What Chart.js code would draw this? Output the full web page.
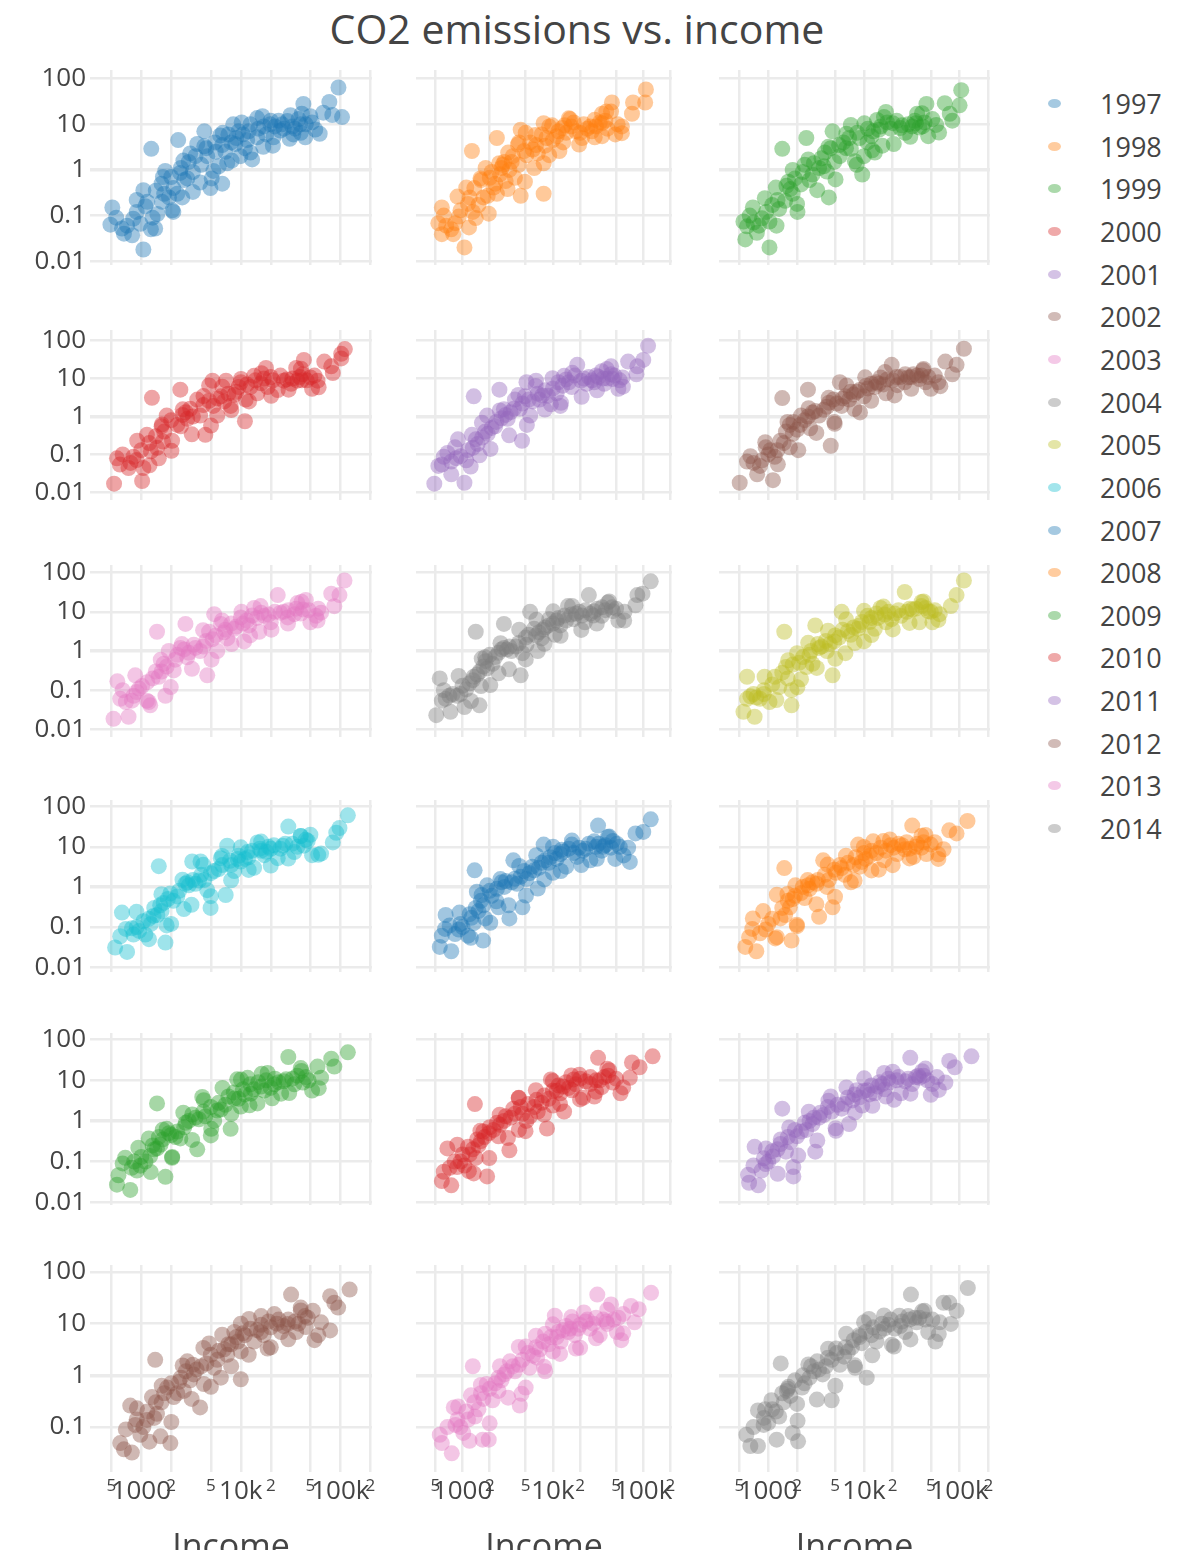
<!DOCTYPE html>
<html>
<head>
<meta charset="utf-8">
<title>CO2 emissions vs. income</title>
<script src="https://cdn.jsdelivr.net/npm/chart.js"></script>
<style>
  html, body { margin: 0; padding: 0; background: #fff; }
  body { width: 1200px; height: 1550px; overflow: hidden; position: relative;
         font-family: "Open Sans", "DejaVu Sans", sans-serif; color: #444; }
  #title { position: absolute; top: 4px; left: 577px; transform: translateX(-50%);
           font-size: 41px; line-height: 48px; white-space: nowrap; }
  canvas.panel { position: absolute; }
  .legend-item { position: absolute; left: 1040px; width: 150px; height: 40px; font-size: 27px; line-height: 40px; }
  .legend-item .dot { position: absolute; left: 8px; top: 15px; width: 13px; height: 9px; border-radius: 50%; }
  .legend-item .lbl { position: absolute; left: 60px; top: 0; }
</style>
</head>
<body>
<div id="title">CO2 emissions vs. income</div>
<div id="legend"></div>
<script>
const FONT = '"Open Sans", "DejaVu Sans", sans-serif';

const years = [1997, 1998, 1999, 2000, 2001, 2002, 2003, 2004, 2005,
               2006, 2007, 2008, 2009, 2010, 2011, 2012, 2013, 2014];
const colors = ['#1f77b4', '#ff7f0e', '#2ca02c', '#d62728', '#9467bd',
                '#8c564b', '#e377c2', '#7f7f7f', '#bcbd22', '#17becf'];

const xTicks = [500, 1000, 2000, 5000, 10000, 20000, 50000, 100000, 200000];
const xTickLabels = ['5', '1000', '2', '5', '10k', '2', '5', '100k', '2'];
const yTicks = [0.01, 0.1, 1, 10, 100];
const yTickLabels = ['0.01', '0.1', '1', '10', '100'];

// [income, co2 per person]
const pts1997 = [[512,0.15],[490,0.063],[640,0.052],[670,0.04],[810,0.037],[830,0.085],[980,0.066],[1050,0.36],[1050,0.018],[1100,0.16],[1260,2.9],[1380,0.052],[1450,0.108],[1620,0.2],[1740,0.95],[2100,0.12],[2100,0.4],[2350,4.5],[2460,0.86],[2580,0.25],[2900,0.65],[3100,2.3],[3650,3.7],[3900,0.53],[4300,7],[4600,2],[4950,0.4],[5300,0.95],[6200,5.7],[6500,0.5],[7300,1.4],[8400,10],[8800,3.7],[9900,2],[11600,4.5],[13000,1.7],[14600,13.7],[14600,5.2],[16800,3.2],[19800,10],[21300,5.2],[25000,7.3],[29400,11.8],[31500,15.8],[33700,6],[39600,10],[42500,28],[44400,5.2],[49900,15],[56000,7.7],[67400,18],[77500,31],[83000,16],[95700,64],[104000,14.4],
  [1900,0.25],[2300,0.3],[3300,0.9],[6000,1.2],[7000,2.5],[9000,5],[11000,3],[12000,7],[15000,8],[18000,6],[22000,9],[27000,8],[35000,8],[40000,6.5],[45000,10],[24000,12],[1300,0.09],[1700,0.3],[2700,0.6],[4000,1.3],[5600,2.5],[8000,4],[10500,6],
  [560,0.09],[720,0.06],[900,0.12],[1150,0.2],[1400,0.35],[1600,0.5],[2000,0.7],[2500,1.1],[3000,1.5],[3500,2],[4500,3],[5500,4],[6500,3.5],[7500,6],[9500,7],[12500,10],[17000,9],[20000,12],[26000,10],[33000,9],[38000,13],[52000,11],
  [900,0.22],[1250,0.05],[1650,0.7],[2050,0.13],[2650,1.6],[3300,0.33],[4300,3.3],[5100,0.65],[6600,6.5],[8100,1.6],[10200,11],[12500,2.4],[16500,15],[21000,3.4],[31000,4.8],[41000,17],[62000,6.2]];
const pts1998 = [[107000,58],[105000,30],[77000,30],[75000,17],[45000,30],[44000,19],[35000,17],[35000,10.6],[58000,9],[49000,6],[35000,5.5],[26000,9],[21000,5],[16000,9],[15000,13.5],[12700,8.3],[11000,5.5],[9100,9],[7900,10.6],[7500,6],[8200,3.4],[9100,2.1],[6800,2.3],[6200,1.1],[5600,4],[5000,6.5],[4400,7.6],[4200,4],[5100,2.1],[4200,1.3],[3800,0.67],[4400,0.27],[7900,0.3],[3200,2.4],[3500,1.5],[2700,1.1],[2400,5],[2600,0.8],[3000,0.57],[2200,0.41],[2000,0.67],[1800,1.1],[1270,2.6],[1900,0.27],[1500,0.17],[1150,0.18],[1100,0.41],[1400,0.088],[910,0.095],[830,0.068],[590,0.15],[540,0.068],[590,0.039],[790,0.039],[1050,0.02],[2400,0.3],[2900,1.5],[13000,4],[20000,6.5],[29000,12.5],
  [1300,0.12],[1700,0.25],[2300,0.5],[3300,1],[6000,2.8],[10000,4.5],[14000,6.5],[18000,7],[24000,8],[30000,9],[40000,8],[660,0.06],
  [620,0.1],[750,0.05],[950,0.13],[1200,0.25],[1350,0.4],[1600,0.6],[2100,0.9],[2800,1.3],[3600,2],[4800,2.6],[6500,3.5],[8500,5],[11500,7],[13500,9.5],[17000,11],[22000,10],[27000,7],[33000,11],[38000,12],[52000,10],
  [880,0.26],[1180,0.055],[1580,0.65],[1950,0.11],[2550,1.4],[3150,0.38],[4100,3.6],[4900,0.55],[6400,5.8],[7900,1.4],[9800,9.5],[11800,2.6],[15500,13],[19500,3.6],[29000,5.2],[39000,19],[58000,6.4]];
const pts1999 = [[104000,56],[100000,26],[70000,29],[79000,17],[84000,12],[57000,9.7],[45000,28],[47000,5.5],[36000,17],[35000,10.6],[24000,8.3],[20000,10.6],[17000,18.7],[13700,12.4],[14300,7.6],[10900,4],[13000,2.4],[10000,2],[9600,0.79],[7300,9.7],[7300,2.9],[6100,4],[5600,2],[4700,7],[4900,1.5],[4300,0.25],[3900,2.4],[3400,1.1],[2900,0.79],[2500,5],[2400,1.3],[2200,0.48],[1800,1],[1700,0.38],[1500,0.21],[1400,2.9],[1200,0.41],[1100,0.17],[1030,0.074],[860,0.087],[690,0.15],[600,0.058],[575,0.03],[550,0.074],[760,0.042],[1030,0.02],[2000,0.18],[4100,0.92],[8400,1.3],[15600,3.4],[27000,6.5],[32000,9],[12000,5.5],
  [1300,0.14],[1800,0.3],[2700,0.6],[3800,1.2],[6500,3],[9000,5],[12500,7],[19000,8],[25000,9.5],[38000,8.5],[43000,11],[700,0.07],
  [640,0.1],[800,0.06],[950,0.12],[1250,0.22],[1550,0.45],[1900,0.65],[2300,0.9],[3000,1.4],[3600,1.8],[4500,3],[5500,3.5],[7000,5],[8500,6.5],[11000,8],[15000,9],[17500,11],[22000,12],[29000,10],[34000,12],[41000,9],[52000,13],
  [920,0.24],[1220,0.06],[1620,0.55],[2020,0.12],[2620,1.7],[3250,0.36],[4250,3.2],[5050,0.62],[6550,6.2],[8050,1.55],[10100,10.5],[12200,2.7],[16200,14.5],[20500,3.7],[30500,5.3],[40500,17.5],[61000,6.6]];
const pts2000 = [[533,0.017],[570,0.079],[610,0.054],[745,0.044],[835,0.087],[900,0.071],[1020,0.02],[1050,0.044],[1140,0.33],[1280,3.1],[1440,0.15],[1500,0.079],[1700,0.4],[1800,1.06],[2040,0.23],[2300,0.6],[2470,5.1],[2800,1.3],[2900,0.87],[3650,2.8],[3900,1.06],[4400,0.33],[4800,6.6],[5200,8.8],[5800,1.06],[6300,3.4],[7100,8.8],[7900,1.9],[8600,3.7],[10000,8],[11000,0.75],[11200,2.8],[13600,11.8],[14700,4.1],[17900,19],[18600,6],[23500,5],[27000,8.8],[32000,7.3],[36000,19],[37000,8.8],[42000,13],[43000,31],[52000,5.4],[50000,10.7],[59000,8.8],[69000,28],[81000,21],[84000,14],[102000,34],[111000,60],[102000,45],
  [1250,0.12],[1650,0.22],[2500,0.55],[3300,1],[5300,1.9],[6800,2.5],[9000,4.5],[12500,6],[16000,7.5],[21000,9],[29000,9.5],[39000,11],[46000,9],
  [650,0.1],[780,0.06],[1000,0.13],[1200,0.2],[1400,0.3],[1600,0.55],[2000,0.8],[2600,1.1],[3100,1.6],[4200,2],[4800,2.6],[5800,3],[7500,4],[9500,6],[11500,7],[14000,9],[17000,10],[20000,11],[25000,12],[33000,10],[41000,9],[55000,12],
  [910,0.23],[1210,0.052],[1610,0.62],[2010,0.125],[2610,1.55],[3220,0.34],[4220,3.45],[5020,0.58],[6520,6.1],[8020,1.48],[10050,9.8],[12100,2.5],[16100,13.8],[20200,3.5],[30200,5.1],[40200,18.2],[60500,5.9]];
const pts2001 = [[487,0.017],[590,0.054],[620,0.087],[750,0.065],[825,0.154],[750,0.03],[1050,0.018],[1100,0.07],[1270,0.33],[1330,3.4],[1470,0.19],[1540,0.095],[1780,0.4],[1870,1.06],[2370,0.72],[2560,5.1],[2870,1.56],[3160,0.87],[3800,2.8],[4550,0.23],[4900,3.4],[5100,8],[5600,1.06],[6500,8.8],[7100,2.8],[8200,4.9],[9500,2.1],[11000,4.1],[12100,1.9],[13300,11.8],[16200,6],[18600,23],[20500,8.8],[23600,7.3],[28700,8],[34700,15.7],[37000,7.3],[44000,21],[46000,9.7],[53000,5.4],[59000,10.7],[68000,28],[84000,13],[86000,21],[100000,31],[113000,73],
  [950,0.09],[1300,0.15],[1650,0.28],[2100,0.5],[2700,0.9],[3400,1.3],[4300,1.6],[6000,2.5],[7600,3.6],[10000,5.5],[12800,6.5],[15000,8],[22000,10],[27000,9],[32000,11],[40000,10],[48000,12],[55000,9],
  [540,0.05],[680,0.11],[850,0.08],[1150,0.13],[1400,0.25],[1900,0.35],[2300,0.55],[3000,1.1],[3700,1.6],[4600,2.2],[5400,2.8],[6800,4],[8800,3.5],[11500,8],[14000,9.5],[17500,12],[25000,11],[30000,12],[36000,10],[44000,13],
  [890,0.25],[1230,0.048],[1640,0.68],[2040,0.14],[2580,1.45],[3280,0.32],[4150,3.7],[5150,0.6],[6450,6.4],[8150,1.52],[9900,10.2],[12300,2.3],[16400,14.2],[20800,3.3],[30800,4.9],[39500,17.8],[59500,6.1]];
const pts2002 = [[503,0.018],[600,0.065],[765,0.03],[860,0.07],[1120,0.021],[940,0.154],[1170,0.087],[1400,3.06],[1340,0.23],[1530,0.4],[1680,0.154],[1830,0.72],[2200,1.06],[2600,5.1],[2740,0.49],[3400,1.06],[4300,2.3],[4500,0.17],[4900,0.72],[5600,8],[5850,1.9],[7000,2.8],[8400,4.5],[9100,1.28],[10000,3.4],[12000,7.3],[14900,10.7],[17000,4.1],[19500,23],[22300,6.7],[26700,8],[33000,13],[38000,9.7],[44000,8],[42000,18],[50000,5.4],[60000,8],[71000,28],[84000,13],[93000,23],[111000,61],[1680,0.6],[2900,1.28],[6400,3.4],[14300,7.3],[29000,10.7],
  [700,0.06],[1000,0.1],[1250,0.13],[2000,0.45],[2400,0.8],[3800,1.5],[5200,2.2],[7800,3.8],[11000,5.5],[13000,6],[16000,7],[20000,9],[24000,11],[36000,12],[47000,11],
  [650,0.09],[820,0.05],[1050,0.13],[1450,0.2],[1800,0.35],[2150,0.6],[2600,1],[3100,1.4],[4100,1.8],[4800,2.8],[6000,3],[7300,4.5],[9000,5],[10500,6.5],[13500,8],[17500,9.5],[22000,11],[27000,13],[31000,11],[40000,12],[55000,12],
  [930,0.21],[1260,0.055],[1590,0.72],[2060,0.13],[2640,1.65],[3180,0.37],[4280,3.1],[4950,0.64],[6580,6.6],[7950,1.58],[10300,10.8],[11900,2.6],[16600,14.8],[20900,3.6],[31200,5.4],[41500,16.5],[63000,6.3]];
const pts2003 = [[526,0.0186],[575,0.168],[615,0.06],[745,0.021],[805,0.054],[837,0.072],[1020,0.127],[1140,0.054],[1230,0.041],[1440,3.1],[1500,0.22],[1680,0.47],[1750,0.072],[1890,1],[2120,0.32],[2470,1.2],[2780,4.9],[2900,0.69],[3370,1.45],[3900,1],[4600,0.24],[4800,3.1],[5400,8.7],[5800,1],[6300,4.9],[7300,2.1],[8600,3.7],[10000,7.2],[10800,1.76],[12100,4.5],[13600,12.6],[15300,3.1],[17200,7.9],[20000,5.4],[23500,26.8],[25000,9.5],[29600,7.2],[34500,8.7],[37000,16.7],[42000,11.5],[45000,20],[50000,5.4],[57000,7.9],[64000,9.5],[81000,29],[87000,13.9],[98000,26.8],[110000,63],
  [900,0.09],[1300,0.2],[1600,0.3],[2200,0.6],[3000,0.9],[4200,1.3],[5200,2],[6800,3],[9000,4.2],[11500,6],[14500,7],[19000,8.5],[27000,10],[40000,9],
  [650,0.1],[700,0.05],[950,0.11],[1150,0.16],[1400,0.3],[1800,0.4],[2300,0.8],[2700,1.1],[3500,1.2],[4500,1.8],[5600,2.5],[7000,3.5],[8000,5],[10500,5],[13000,8],[16000,9.5],[22000,10],[30000,11],[36000,12],[48000,11],[60000,12],
  [870,0.24],[1190,0.05],[1570,0.6],[1980,0.12],[2560,1.5],[3230,0.35],[4180,3.4],[5080,0.6],[6480,6],[8080,1.5],[10150,10],[12400,2.5],[15800,14],[20300,3.5],[29800,5],[40800,18],[59000,6]];
const pts2004 = [[512,0.023],[560,0.2],[590,0.054],[715,0.072],[735,0.028],[870,0.072],[1050,0.037],[1100,0.105],[1400,3.1],[1330,0.22],[1540,0.041],[1600,0.127],[1780,0.69],[1870,0.36],[2150,0.47],[2500,0.27],[2870,4.9],[2870,1.2],[3470,1],[4400,0.24],[4600,0.88],[5100,1.45],[5600,10],[6200,3.7],[6800,1],[7500,2.1],[9100,6.5],[10500,2.6],[12100,4.5],[14700,14],[17000,6.5],[19600,10],[22600,5.4],[25000,26.8],[28700,10.4],[34700,7.9],[42000,18.4],[46000,10.4],[53000,6],[62000,10],[82000,14.7],[86000,26.8],[98000,29],[121000,60],
  [650,0.06],[950,0.08],[1200,0.15],[1450,0.25],[1700,0.4],[2000,0.8],[2500,0.9],[3100,1.1],[3900,1.3],[5000,2.2],[7000,3],[8200,4],[10000,5],[11500,7],[14000,6],[16000,8.5],[21000,8],[26000,9],[31000,12],[38000,11],[45000,13],
  [620,0.1],[780,0.08],[1000,0.13],[1300,0.18],[1550,0.3],[1800,0.55],[2300,0.7],[2700,1.1],[3300,1.3],[4200,1.6],[5400,2.6],[6500,2.5],[7800,3.5],[9000,4.5],[11000,6],[13500,8],[18000,9],[23000,11],[28000,8],[35000,13],[50000,12],
  [905,0.23],[1240,0.053],[1630,0.64],[2030,0.135],[2630,1.58],[3270,0.34],[4240,3.5],[5010,0.61],[6560,6.3],[8060,1.53],[10080,10.3],[12150,2.45],[16300,14.1],[20600,3.45],[30600,5],[40600,17.2],[61500,6]];
const pts2005 = [[550,0.028],[600,0.22],[720,0.021],[750,0.065],[900,0.08],[1030,0.05],[1470,3.1],[1170,0.22],[1530,0.39],[1750,0.041],[1750,0.1],[2000,0.88],[2200,0.19],[2500,0.39],[2900,0.47],[3100,4.5],[3400,1.2],[4100,1],[4700,0.24],[4900,1.76],[5850,10],[6400,0.88],[7300,2.6],[8700,3.7],[10000,1.76],[10900,7.9],[13000,3.7],[14900,12.6],[17000,5.4],[19500,6.5],[24400,7.9],[26700,32],[32000,11.5],[38000,5.4],[42000,18.4],[47000,10.4],[52000,5.4],[62000,8.7],[81000,14],[93000,26.8],[111000,63],
  [650,0.07],[820,0.06],[1300,0.12],[1600,0.2],[2100,0.5],[2700,0.8],[3600,1.3],[4400,1.5],[5500,2.2],[6800,3.2],[9000,4.5],[11500,5.5],[14000,7],[16500,8.5],[21000,9],[28000,10],[35000,12],[44000,12.5],[55000,11],
  [600,0.06],[700,0.08],[900,0.1],[1100,0.14],[1400,0.28],[1800,0.45],[2300,0.7],[2800,1],[3300,1.5],[4000,1.8],[5000,2.5],[6000,3.5],[7800,4],[9500,5.5],[12000,7],[13500,9],[18000,10],[23000,11],[30000,12],[40000,14],[50000,10],
  [915,0.22],[1215,0.056],[1615,0.58],[2015,0.118],[2615,1.62],[3215,0.37],[4215,3.3],[5015,0.63],[6515,6.4],[8015,1.6],[10015,10.6],[12015,2.55],[16015,13.6],[20015,3.55],[30015,5.2],[40015,17.8],[60015,6.2]];
const pts2006 = [[546,0.031],[615,0.059],[640,0.23],[720,0.024],[805,0.093],[835,0.065],[1100,0.065],[1190,0.16],[1330,0.19],[1500,3.3],[1750,0.041],[1680,0.4],[1800,0.11],[1960,0.69],[2300,0.58],[2680,0.28],[2780,1.2],[3250,4.3],[3940,4.3],[3800,1.44],[4600,0.83],[4970,0.3],[5400,2.5],[6300,5.2],[7300,10.7],[7050,0.63],[8600,2.5],[10000,4.3],[11700,7.4],[13600,3],[14700,12.9],[17200,6.2],[20000,8.9],[23500,5.2],[26400,10.7],[30000,32],[34500,7.4],[40000,18.6],[43000,10.7],[50000,20],[52000,6.2],[64000,6.8],[84000,12.9],[91000,22.4],[98000,29.4],[119000,61],
  [950,0.08],[1250,0.12],[1450,0.2],[1600,0.25],[2100,0.45],[3000,1.1],[3500,1.2],[4300,1.5],[6000,2.8],[8000,3.5],[9300,5],[12000,5.5],[16000,8],[19000,10],[25000,9],[33000,12],[47000,14],
  [700,0.09],[900,0.1],[1050,0.14],[1350,0.3],[1550,0.35],[1850,0.5],[2400,0.8],[2900,1.3],[3300,1.5],[4000,2],[5000,2.2],[6500,3.5],[7800,4.5],[9500,6],[11000,5],[13000,8],[15500,9],[18000,7.5],[21500,11],[28000,12],[37000,10],[45000,15],
  [895,0.24],[1195,0.05],[1595,0.66],[1995,0.12],[2595,1.52],[3195,0.36],[4195,3.55],[4995,0.59],[6495,5.9],[7995,1.47],[9995,9.7],[11995,2.65],[15995,13.5],[19995,3.4],[29995,5.1],[39995,18.5],[59995,6.3]];
const pts2007 = [[560,0.032],[590,0.061],[650,0.2],[750,0.025],[825,0.067],[910,0.087],[1150,0.061],[1200,0.21],[1330,0.125],[1360,2.6],[1440,0.76],[1690,0.046],[1780,0.164],[1870,1.1],[2370,0.44],[2500,0.31],[2700,1.3],[3300,0.164],[3650,4.6],[4000,1.2],[4600,0.31],[5100,1.57],[5900,3.2],[6800,0.91],[7900,11.4],[8200,4.6],[10000,2.25],[12100,6.6],[14000,3.2],[16200,11.4],[18600,5.6],[21500,8],[26000,4.6],[28700,13.7],[31600,33.8],[34700,8],[42000,18],[44000,9.5],[49000,5],[68000,9.5],[71000,4.2],[82000,21.6],[100000,23.5],[121000,48.5],
  [1000,0.1],[1400,0.3],[1600,0.45],[2100,0.6],[2900,1],[3500,1.3],[4400,1.8],[5500,2.2],[7000,3],[9000,4],[11000,5],[13000,7.5],[17000,7],[23000,9],[30000,10],[38000,11],[46000,14],[55000,10],
  [640,0.09],[720,0.11],[950,0.12],[1250,0.17],[1500,0.25],[1700,0.35],[2000,0.8],[2400,0.9],[3000,1.4],[3800,1.6],[4800,2.5],[6200,2.6],[7500,4],[9300,5.5],[10500,7],[12500,8.5],[15000,9],[19500,9.5],[25000,12],[32000,12],[36000,10],[51000,12],
  [925,0.23],[1235,0.054],[1625,0.63],[2025,0.128],[2625,1.57],[3235,0.35],[4235,3.35],[5035,0.61],[6535,6.2],[8035,1.54],[10035,10.1],[12235,2.5],[16235,14.3],[20635,3.52],[30635,5.05],[40635,17.6],[60635,6.1]];
const pts2008 = [[575,0.032],[630,0.056],[690,0.164],[750,0.025],[940,0.087],[1230,0.056],[1470,2.95],[1230,0.64],[1340,0.164],[1680,0.31],[1750,0.046],[1920,1.1],[2000,0.105],[2400,0.53],[2900,1.3],[3400,0.18],[3750,4.6],[4100,1],[4700,0.31],[5100,2.25],[5850,2.95],[7300,1.3],[8700,11.4],[9100,3.2],[10400,5],[12500,13.7],[14300,2.7],[16300,4.6],[18700,15.2],[22300,6.6],[26700,8.7],[32000,33.8],[33000,5.6],[40000,9.5],[44000,19.7],[45000,6.6],[50000,11.4],[60000,5],[68000,8.7],[78000,25.8],[93000,21.6],[121000,44],
  [1000,0.12],[1500,0.2],[1800,0.5],[2200,0.7],[2700,0.9],[3200,1.2],[4300,1.5],[6300,2],[7800,3.5],[9500,4.2],[11500,6],[13500,7],[17000,8],[20500,9.5],[25000,11],[30000,9],[36000,12],[55000,13],
  [680,0.09],[820,0.07],[1100,0.16],[1400,0.3],[1600,0.45],[1900,0.6],[2300,1],[2600,1.1],[3300,1.5],[3900,2],[4900,2.7],[5600,3.5],[6800,4],[8200,5.5],[10000,7],[12000,8],[15000,9.5],[19000,11],[23000,12],[28000,13],[35000,10],[42000,13],
  [885,0.25],[1185,0.052],[1585,0.67],[1985,0.115],[2585,1.48],[3185,0.37],[4185,3.6],[4985,0.57],[6485,6],[7985,1.45],[9985,9.9],[11985,2.58],[15985,13.9],[19985,3.48],[29985,5.15],[39985,18.8],[59985,6.5]];
const pts2009 = [[570,0.027],[590,0.046],[690,0.124],[775,0.02],[905,0.06],[980,0.079],[1190,0.37],[1230,0.136],[1440,2.7],[1440,0.21],[1560,0.26],[1750,0.042],[1800,0.64],[2040,0.124],[2200,0.4],[2470,0.37],[3250,1.44],[3650,0.2],[3800,1.1],[4100,3.9],[5000,0.44],[5400,1],[6300,1.9],[7900,0.64],[8600,3.55],[9200,10.6],[10000,2.26],[11700,11.5],[12600,4.7],[14700,2.7],[17200,5.6],[18600,15.2],[21700,8],[25400,4.7],[28500,10.6],[30000,37.5],[34500,8],[40000,20],[42000,8.8],[52000,5.6],[59000,21.8],[64000,11.6],[81000,34],[87000,21.8],[119000,49],
  [800,0.07],[1100,0.1],[1350,0.2],[1650,0.35],[2000,0.45],[2700,0.7],[3000,1],[4400,1.3],[5800,1.8],[7000,2.5],[9500,3.5],[11000,4.5],[13500,6],[16000,7],[20000,6.5],[24000,9],[33000,11],[45000,12],
  [650,0.09],[850,0.1],[1000,0.13],[1300,0.25],[1500,0.4],[1900,0.5],[2300,0.55],[2800,0.9],[3500,1.2],[4200,1.7],[5000,2.2],[6000,2.8],[7500,4],[8500,5],[10500,6],[12500,8],[15000,9],[18000,10],[22000,11],[27000,9.5],[37000,13],[48000,10],
  [935,0.22],[1245,0.055],[1645,0.61],[2045,0.13],[2645,1.6],[3245,0.34],[4245,3.25],[5045,0.64],[6545,6.5],[8045,1.5],[10045,10.4],[12245,2.42],[16245,14.6],[20645,3.6],[30645,4.85],[40645,17],[60645,6.4]];
const pts2010 = [[590,0.033],[620,0.056],[750,0.026],[680,0.21],[870,0.073],[1050,0.08],[1150,0.23],[1330,0.051],[1370,2.6],[1400,0.123],[1600,0.32],[1870,0.043],[1960,0.5],[2500,0.42],[2870,1],[3300,0.19],[3650,2],[4200,3.7],[4200,0.6],[5100,1],[5600,1.3],[6800,1.7],[8600,0.65],[9500,10.5],[10000,2.4],[12100,4.8],[13300,1.7],[16200,5.7],[19600,13.7],[21500,3.7],[26000,8.1],[28700,4],[31600,35.7],[34700,6.8],[42000,17.8],[46000,8.8],[56000,4.8],[71000,11.5],[75000,27.5],[91000,21],[127000,39],
  [950,0.1],[1200,0.15],[1500,0.25],[1750,0.4],[2200,0.6],[2600,0.8],[3400,1.2],[4600,1.5],[6200,2.2],[7500,2.8],[9000,3.5],[11000,5.5],[13000,7],[15000,6.5],[18000,8],[23000,9.5],[30000,10],[37000,12],[50000,11],
  [720,0.07],[820,0.1],[1000,0.15],[1300,0.2],[1450,0.35],[1700,0.55],[2000,0.7],[2400,0.9],[3000,1.3],[3800,1.5],[4400,2.2],[5300,2.6],[6600,3.3],[8000,4.2],[10000,5.5],[11500,7.5],[14000,9],[17000,10.5],[20000,11],[26000,12],[33000,10],[41000,13],
  [875,0.26],[1175,0.058],[1575,0.57],[1975,0.122],[2575,1.42],[3175,0.38],[4175,3.65],[4975,0.56],[6475,5.7],[7975,1.43],[9975,9.6],[11975,2.62],[15975,13.2],[19975,3.38],[29975,5.25],[39975,19.2],[59975,6.7]];
const pts2011 = [[615,0.047],[630,0.03],[720,0.23],[785,0.026],[940,0.087],[1120,0.134],[1400,2],[1340,0.27],[1530,0.175],[1830,0.043],[1830,0.073],[2000,0.42],[2500,0.6],[2900,0.84],[3100,0.175],[3400,1.2],[4500,4],[5100,0.57],[5850,2],[7000,0.84],[8400,5.7],[9600,2.4],[10900,5.7],[13000,4.8],[15600,8.1],[17000,4],[20000,16.3],[24400,4.8],[30500,35.7],[32000,8.1],[38000,11.5],[44000,19.5],[50000,4.4],[52000,8.1],[71000,8.8],[78000,30],[89000,21],[133000,39],
  [850,0.06],[1000,0.1],[1250,0.2],[1700,0.3],[2200,0.55],[2700,1],[3800,1.4],[4600,1.7],[6300,2.6],[7600,3.2],[9000,3.8],[11500,4.5],[14000,7],[16500,6],[19000,9],[22000,10],[27000,9.5],[35000,12],[42000,13],[58000,12],
  [700,0.08],[900,0.12],[1100,0.18],[1350,0.35],[1600,0.4],[1900,0.6],[2400,0.9],[3000,1.2],[3500,1.6],[4200,2.2],[5300,2.5],[6800,3.8],[8000,4.5],[10000,5.5],[12000,7.5],[14500,9],[18000,11],[23000,12],[29000,11],[37000,13],[46000,10],
  [945,0.21],[1255,0.05],[1655,0.69],[2055,0.14],[2655,1.68],[3255,0.33],[4255,3.15],[5055,0.66],[6555,6.7],[8055,1.62],[10055,11.2],[12255,2.35],[16255,15.2],[20655,3.3],[30655,4.7],[40655,16.8],[60655,5.8]];
const pts2012 = [[615,0.049],[670,0.037],[805,0.032],[775,0.26],[870,0.11],[980,0.071],[1140,0.137],[1280,0.38],[1380,2],[1440,0.18],[1560,0.066],[1820,0.58],[1960,0.049],[2120,0.38],[2680,0.5],[2900,1.87],[3370,1.04],[3900,0.24],[4250,0.68],[4800,4.15],[5400,1.4],[6300,0.9],[7300,2.5],[8600,6.9],[10000,0.84],[10000,2.9],[12100,12.3],[13600,4.5],[15900,6.9],[18600,3.3],[21700,15.3],[25400,6.9],[29600,9.9],[32000,36.6],[36000,6.9],[40000,20.5],[45000,8.6],[55000,4.8],[53000,17.7],[64000,10.6],[79000,7.4],[79000,34],[87000,25.4],[95000,20.5],[124000,45.6],
  [1050,0.1],[1350,0.15],[1600,0.3],[2300,0.45],[2500,0.9],[3100,0.8],[3600,1.3],[4500,1.7],[5800,2],[6800,3.2],[8000,4],[9300,4.5],[11000,6],[14500,7.5],[17000,6],[20000,8.5],[23000,10],[27000,9],[35000,11],[47000,13],
  [700,0.09],[900,0.14],[1150,0.2],[1400,0.3],[1700,0.45],[2000,0.7],[2400,0.75],[2800,1.2],[3300,1.6],[4000,1.5],[5000,2.5],[6000,3],[7500,4],[9000,5.5],[10500,6.5],[12500,8],[16000,9.5],[19000,11],[24000,12],[30000,12],[38000,10],[44000,14],
  [905,0.23],[1205,0.052],[1605,0.63],[2005,0.125],[2605,1.55],[3205,0.35],[4205,3.4],[5005,0.6],[6505,6.1],[8005,1.5],[10005,10],[12005,2.5],[16005,14],[20005,3.5],[30005,5],[40005,18],[60005,6]];
const pts2013 = [[560,0.071],[590,0.049],[760,0.031],[800,0.24],[835,0.11],[1020,0.077],[1240,0.41],[1300,1.5],[1370,0.16],[1670,0.057],[1850,0.68],[1950,0.057],[2150,0.33],[2500,0.5],[2900,1.04],[3350,1.87],[4300,0.26],[4500,0.44],[5000,3.6],[5500,1.4],[6700,2.2],[8200,1.2],[8200,6.4],[10500,14.3],[10000,2.9],[12200,4.5],[14800,6.9],[18000,3.3],[22000,16.5],[25600,8],[31000,36.6],[33000,6],[40000,9.9],[44000,23.6],[51000,6.9],[57000,4.8],[60000,15.3],[73000,22],[80000,10.6],[89000,19],[122000,39.5],
  [950,0.1],[1150,0.14],[1500,0.22],[1700,0.35],[2300,0.7],[2700,0.8],[3800,1.2],[4200,1.6],[6000,2.4],[7200,3.2],[9000,4],[11000,5.5],[13000,7.5],[15500,8],[17500,6],[20000,9.5],[23000,11],[28000,10],[36000,12],[47000,12],
  [680,0.1],[880,0.14],[1100,0.2],[1350,0.3],[1600,0.45],[2000,0.55],[2500,0.9],[3100,1.2],[3600,1.5],[4600,2],[5300,2.7],[6500,3.5],[7800,4.5],[9500,5.5],[11500,7],[14000,9],[16500,11],[19000,8],[24000,12],[30000,13],[39000,11],[53000,13],
  [895,0.25],[1195,0.054],[1595,0.65],[1995,0.118],[2595,1.5],[3195,0.37],[4195,3.55],[4995,0.58],[6495,5.85],[7995,1.46],[9995,9.7],[11995,2.6],[15995,13.4],[19995,3.42],[29995,5.2],[39995,18.6],[59995,6.5]];
const pts2014 = [[590,0.071],[650,0.043],[780,0.043],[780,0.21],[895,0.11],[1080,0.33],[1300,0.16],[1350,1.7],[1560,0.5],[1800,0.077],[2050,0.053],[2000,0.28],[2250,0.58],[2700,0.9],[3250,1.87],[3700,1.04],[4600,0.33],[5100,3.3],[5600,1.6],[6800,2.9],[8100,1.4],[8900,6],[10700,0.9],[11300,12.3],[13500,4.5],[16300,8],[19600,3.9],[23500,14.3],[27000,6.9],[31000,36.6],[35500,10.6],[43000,17.7],[47000,6.9],[56000,4.5],[62000,10.6],[68000,25.4],[78000,25.4],[81000,9.9],[93000,17.7],[122000,49],
  [1000,0.12],[1200,0.2],[1450,0.3],[1700,0.4],[2400,0.7],[3000,1.2],[4000,1.5],[4600,2],[6200,2.3],[7500,3.5],[9500,4.2],[12000,6],[14500,7],[18000,9.5],[21000,8],[25000,11],[30000,12],[38000,13],[52000,12],
  [700,0.1],[900,0.15],[1100,0.22],[1400,0.45],[1600,0.55],[1900,0.8],[2300,1],[2800,1.5],[3400,1.3],[4200,2.2],[5200,2.7],[6400,3.5],[7800,4.8],[9000,5.5],[10500,7],[12500,8.5],[15500,10],[19000,12],[24000,9],[29000,14],[34000,13],[44000,12],
  [925,0.22],[1225,0.057],[1625,0.6],[2025,0.132],[2625,1.62],[3225,0.34],[4225,3.28],[5025,0.63],[6525,6.4],[8025,1.56],[10025,10.6],[12225,2.45],[16225,14.4],[20625,3.62],[30625,4.95],[40625,17.3],[60625,6.3]];

const pointsByYear = [pts1997, pts1998, pts1999, pts2000, pts2001, pts2002, pts2003, pts2004, pts2005,
                      pts2006, pts2007, pts2008, pts2009, pts2010, pts2011, pts2012, pts2013, pts2014];

// facet grid: pixel edges of each plot area, and log10 axis ranges
const colLeft = [90, 408, 711];
const colRight = [372, 672, 990];
const rowTop = [70, 330, 565, 800, 1033, 1265];
const rowBottom = [273, 508, 745, 980, 1213, 1472];
const rowRange = [[-2.084, 2.19], [-2.2, 2.28], [-2.195, 2.195], [-2.12, 2.167], [-2.07, 2.165], [-1.87, 2.135]];
const xRange = [2.485, 5.318];

const GRID = '#ebebeb';

function fade(hex, a) {
    const n = parseInt(hex.slice(1), 16);
    return `rgba(${n >> 16},${(n >> 8) & 255},${n & 255},${a})`;
}

years.forEach((year, i) => {
    const col = i % 3, row = Math.floor(i / 3);
    const showY = col === 0, showX = row === 5;
    const padT = 20, padR = 20;
    const xH = showX ? 101 : 0;
    const cLeft = showY ? 0 : colLeft[col];
    const cTop = rowTop[row] - padT;
    const yW = colLeft[col] - cLeft;

    const canvas = document.createElement('canvas');
    canvas.className = 'panel';
    canvas.width = colRight[col] - cLeft + padR;
    canvas.height = rowBottom[row] - cTop + xH;
    canvas.style.left = cLeft + 'px';
    canvas.style.top = cTop + 'px';
    document.body.appendChild(canvas);

    const yMin = Math.pow(10, rowRange[row][0]);
    const yMax = Math.pow(10, rowRange[row][1]);

    new Chart(canvas, {
        type: 'scatter',
        data: {
            datasets: [{
                label: String(year),
                data: pointsByYear[i].map(p => ({ x: p[0], y: p[1] })),
                backgroundColor: fade(colors[i % 10], 0.42),
                borderWidth: 0,
                pointRadius: 8,
                pointHoverRadius: 8,
                clip: 0
            }]
        },
        options: {
            responsive: false,
            animation: false,
            events: [],
            layout: { padding: { top: padT, right: padR, left: 0, bottom: 0 } },
            plugins: { legend: { display: false }, tooltip: { enabled: false } },
            scales: {
                x: {
                    type: 'logarithmic',
                    min: Math.pow(10, xRange[0]),
                    max: Math.pow(10, xRange[1]),
                    afterBuildTicks: s => { s.ticks = xTicks.map(v => ({ value: v })); },
                    afterFit: s => { s.height = xH; s.paddingLeft = 0; s.paddingRight = 0; },
                    grid: { color: GRID, lineWidth: 2.5, drawTicks: false },
                    border: { display: false },
                    ticks: {
                        display: showX,
                        autoSkip: false,
                        maxRotation: 0,
                        minRotation: 0,
                        padding: 4,
                        color: '#444',
                        font: ctx => ({ family: FONT, size: [1000, 10000, 100000].includes(ctx.tick && ctx.tick.value) ? 26 : 17 }),
                        callback: v => xTickLabels[xTicks.indexOf(v)]
                    },
                    title: {
                        display: showX,
                        text: 'Income',
                        color: '#444',
                        font: { family: FONT, size: 34 },
                        padding: { top: 0, bottom: 4 }
                    }
                },
                y: {
                    type: 'logarithmic',
                    min: yMin,
                    max: yMax,
                    afterBuildTicks: s => {
                        s.ticks = yTicks.filter(v => v >= yMin && v <= yMax).map(v => ({ value: v }));
                    },
                    afterFit: s => { s.width = yW; s.paddingTop = 0; s.paddingBottom = 0; },
                    grid: {
                        color: GRID,
                        lineWidth: ctx => (ctx.tick && ctx.tick.value === 1 ? 3.5 : 2.5),
                        drawTicks: false
                    },
                    border: { display: false },
                    ticks: {
                        display: showY,
                        padding: 4,
                        color: '#444',
                        font: { family: FONT, size: 26 },
                        callback: v => yTickLabels[yTicks.indexOf(v)]
                    }
                }
            }
        }
    });
});

// legend
const legend = document.getElementById('legend');
years.forEach((year, i) => {
    const item = document.createElement('div');
    item.className = 'legend-item';
    item.style.top = (104 + i * 42.65 - 20) + 'px';
    const dot = document.createElement('span');
    dot.className = 'dot';
    dot.style.background = fade(colors[i % 10], 0.4);
    const lbl = document.createElement('span');
    lbl.className = 'lbl';
    lbl.textContent = year;
    item.appendChild(dot);
    item.appendChild(lbl);
    legend.appendChild(item);
});
</script>
</body>
</html>
